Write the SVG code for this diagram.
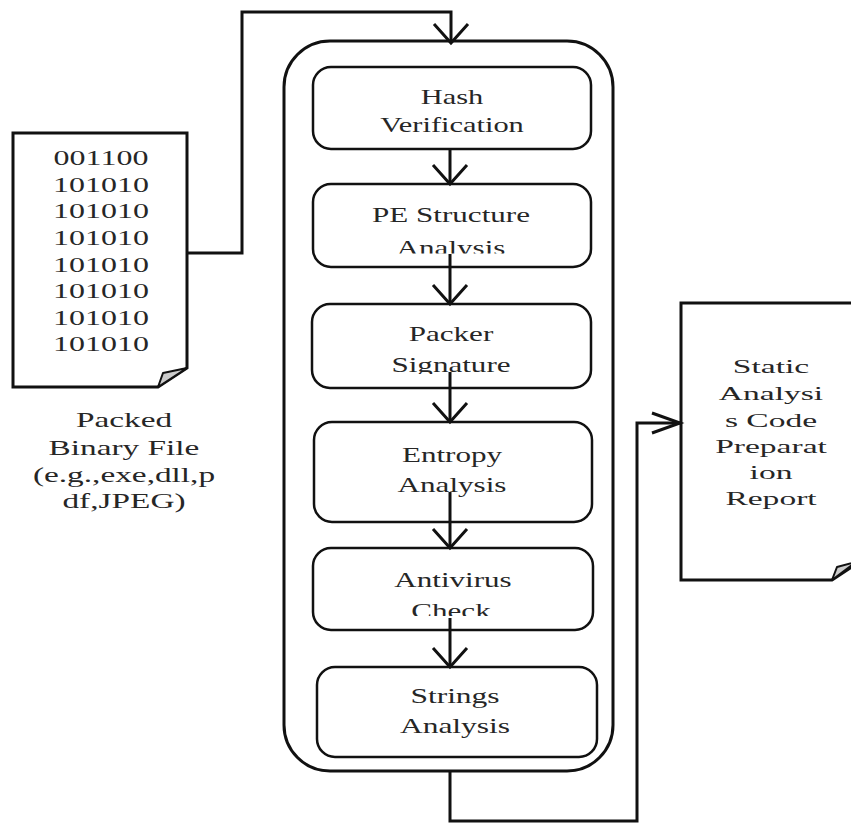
<svg xmlns="http://www.w3.org/2000/svg" width="851" height="823" viewBox="0 0 851 823">
<style>
.box{fill:#fff;stroke:#111;stroke-width:2.5}
.cont{fill:#fff;stroke:#111;stroke-width:3}
.doc{fill:#fff;stroke:#111;stroke-width:3;stroke-linejoin:miter}
.flap{fill:#ccc;stroke:#111;stroke-width:2;stroke-linejoin:round}
.con{fill:none;stroke:#111;stroke-width:3}
text{font-family:"Liberation Serif","Times New Roman",serif;fill:#262626;text-anchor:middle}
.t{font-size:21px}
.l{font-size:21.5px}
.d{font-size:20px}
.r{font-size:19.5px}
</style>
<defs>
<marker id="chev" markerUnits="userSpaceOnUse" orient="auto" overflow="visible" markerWidth="1" markerHeight="1">
<path d="M-19,-17 L0,0 L-19,17" fill="none" stroke="#111" stroke-width="3"/>
</marker>
<marker id="chev2" markerUnits="userSpaceOnUse" orient="auto" overflow="visible" markerWidth="1" markerHeight="1">
<path d="M-28,-10 L0,0 L-28,10" fill="none" stroke="#111" stroke-width="3"/>
</marker>
<clipPath id="clipPE"><rect x="300" y="180" width="300" height="73.5"/></clipPath>
<clipPath id="clipPK"><rect x="300" y="300" width="300" height="74"/></clipPath>
<clipPath id="clipAV"><rect x="300" y="545" width="300" height="71"/></clipPath>
</defs>

<g id="container"><rect class="cont" x="284" y="41" width="329" height="730" rx="46"/></g>

<g id="input-file">
<path class="doc" d="M13,133 H187 V368 L158,387 H13 Z"/>
<polygon class="flap" points="158,387 163,373 187,368"/>
<text class="d" transform="translate(101,165) scale(1.6,1)">001100</text>
<text class="d" transform="translate(101,191.5) scale(1.6,1)">101010</text>
<text class="d" transform="translate(101,218) scale(1.6,1)">101010</text>
<text class="d" transform="translate(101,245) scale(1.6,1)">101010</text>
<text class="d" transform="translate(101,271.5) scale(1.6,1)">101010</text>
<text class="d" transform="translate(101,298) scale(1.6,1)">101010</text>
<text class="d" transform="translate(101,324.5) scale(1.6,1)">101010</text>
<text class="d" transform="translate(101,351) scale(1.6,1)">101010</text>
</g>
<g id="input-label">
<text class="l" transform="translate(124,427) scale(1.55,1)">Packed</text>
<text class="l" transform="translate(124,455) scale(1.55,1)">Binary File</text>
<text class="l" transform="translate(124,482) scale(1.55,1)">(e.g.,exe,dll,p</text>
<text class="l" transform="translate(124,508) scale(1.55,1)">df,JPEG)</text>
</g>

<g id="hash"><rect class="box" x="313" y="67" width="278" height="82" rx="18"/>
<text class="t" transform="translate(452,104) scale(1.45,1)">Hash</text>
<text class="t" transform="translate(452,132) scale(1.45,1)">Verification</text></g>

<g id="pe"><rect class="box" x="313" y="184" width="278" height="83" rx="18"/>
<text class="t" transform="translate(451,222) scale(1.48,1)">PE Structure</text>
<g clip-path="url(#clipPE)"><text class="t" transform="translate(451,255) scale(1.48,1)">Analysis</text></g></g>

<g id="packer"><rect class="box" x="312" y="304" width="279" height="84" rx="18"/>
<text class="t" transform="translate(451,341) scale(1.48,1)">Packer</text>
<g clip-path="url(#clipPK)"><text class="t" transform="translate(451,372) scale(1.48,1)">Signature</text></g></g>

<g id="entropy"><rect class="box" x="314" y="422" width="278" height="100" rx="18"/>
<text class="t" transform="translate(452,462) scale(1.48,1)">Entropy</text>
<text class="t" transform="translate(452,492) scale(1.48,1)">Analysis</text></g>

<g id="antivirus"><rect class="box" x="313" y="548" width="280" height="82" rx="18"/>
<text class="t" transform="translate(453,587) scale(1.48,1)">Antivirus</text>
<g clip-path="url(#clipAV)"><text class="t" transform="translate(451,618) scale(1.48,1)">Check</text></g></g>

<g id="strings"><rect class="box" x="317" y="667" width="280" height="90" rx="18"/>
<text class="t" transform="translate(455,703) scale(1.5,1)">Strings</text>
<text class="t" transform="translate(455,733) scale(1.5,1)">Analysis</text></g>

<g id="report">
<path class="doc" d="M681,303 H856 V564 L832,580 H681 Z"/>
<polygon class="flap" points="832,580 837,567 856,562"/>
<text class="r" transform="translate(771,373) scale(1.72,1)">Static</text>
<text class="r" transform="translate(771,400) scale(1.72,1)">Analysi</text>
<text class="r" transform="translate(771,427) scale(1.72,1)">s Code</text>
<text class="r" transform="translate(771,453) scale(1.72,1)">Preparat</text>
<text class="r" transform="translate(771,479) scale(1.72,1)">ion</text>
<text class="r" transform="translate(771,505) scale(1.72,1)">Report</text>
</g>

<g id="connectors">
<path class="con" d="M187,253 H242 V12 H451 V43" marker-end="url(#chev)"/>
<path class="con" d="M450,149 V184" marker-end="url(#chev)"/>
<path class="con" d="M450,254 V304" marker-end="url(#chev)"/>
<path class="con" d="M450,372 V422" marker-end="url(#chev)"/>
<path class="con" d="M450,492 V548" marker-end="url(#chev)"/>
<path class="con" d="M450,618 V667" marker-end="url(#chev)"/>
<path class="con" d="M450,771 V821 H637 V423 H680" marker-end="url(#chev2)"/>
</g>
</svg>
